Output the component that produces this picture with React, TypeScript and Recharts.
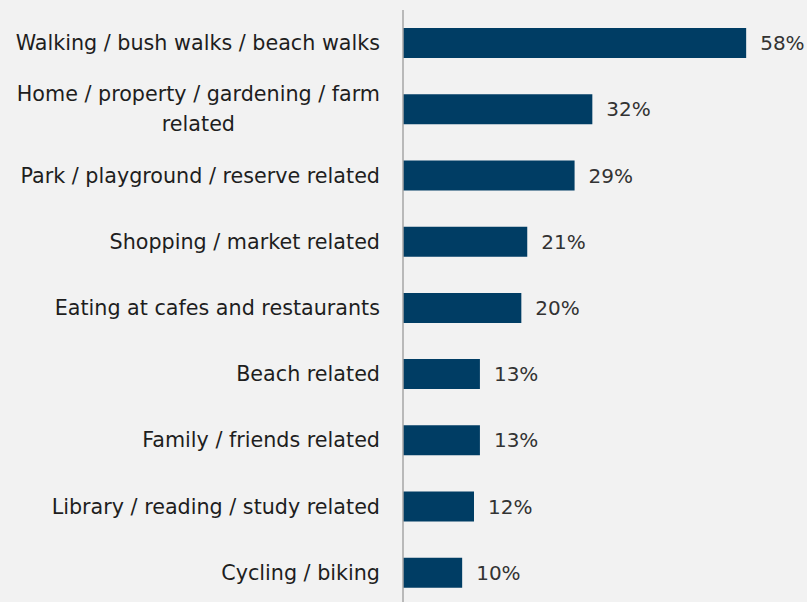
import { BarChart, Bar, XAxis, YAxis, LabelList } from "recharts";

const categories = [
  "Walking / bush walks / beach walks",
  "Home / property / gardening / farm|related",
  "Park / playground / reserve related",
  "Shopping / market related",
  "Eating at cafes and restaurants",
  "Beach related",
  "Family / friends related",
  "Library / reading / study related",
  "Cycling / biking",
];

const shares = [58, 32, 29, 21, 20, 13, 13, 12, 10];

const data = categories.map((name, i) => ({ name, value: shares[i] }));

const FONT = "'DejaVu Sans', sans-serif";
const CAT_SIZE = 20.7;

let canvasCtx: CanvasRenderingContext2D | null = null;
const measure = (text: string) => {
  if (!canvasCtx) canvasCtx = document.createElement("canvas").getContext("2d");
  if (!canvasCtx) return text.length * 10;
  canvasCtx.font = `${CAT_SIZE}px 'DejaVu Sans'`;
  return canvasCtx.measureText(text).width;
};

// etiquetas del eje: algunas van en dos lineas, centradas entre si
const CategoryTick = (props: any) => {
  const { x, y, payload } = props;
  const lines: string[] = String(payload.value).split("|");
  if (lines.length === 1) {
    return (
      <text x={x} y={y} dy={7} textAnchor="end" fill="#1e1e1e" fontSize={CAT_SIZE} fontFamily={FONT}>
        {lines[0]}
      </text>
    );
  }
  const w = Math.max(...lines.map(measure));
  const cx = x - w / 2;
  return (
    <text x={cx} y={y} textAnchor="middle" fill="#1e1e1e" fontSize={CAT_SIZE} fontFamily={FONT}>
      {lines.map((l, i) => (
        <tspan key={i} x={cx} dy={i === 0 ? -8 : 30}>
          {l}
        </tspan>
      ))}
    </text>
  );
};

export default function App() {
  return (
    <div style={{ position: "absolute", left: 0, top: 0, width: 807, height: 602, overflow: "hidden", background: "#f2f2f2" }}>
      <BarChart
        width={807}
        height={610}
        data={data}
        layout="vertical"
        margin={{ top: 10, right: 49, bottom: 4, left: 0 }}
      >
        <XAxis type="number" domain={[0, 60]} hide />
        <YAxis
          type="category"
          dataKey="name"
          width={403}
          tickSize={0}
          tickMargin={23}
          tickLine={false}
          axisLine={{ stroke: "#a6a6a6", strokeWidth: 1.5 }}
          tick={<CategoryTick />}
          interval={0}
        />
        <Bar dataKey="value" fill="#003d64" barSize={30} isAnimationActive={false}>
          <LabelList
            dataKey="value"
            position="right"
            offset={14}
            formatter={(v: any) => `${v}%`}
            fill="#333333"
            fontSize={20}
            fontFamily={FONT}
          />
        </Bar>
      </BarChart>
    </div>
  );
}
